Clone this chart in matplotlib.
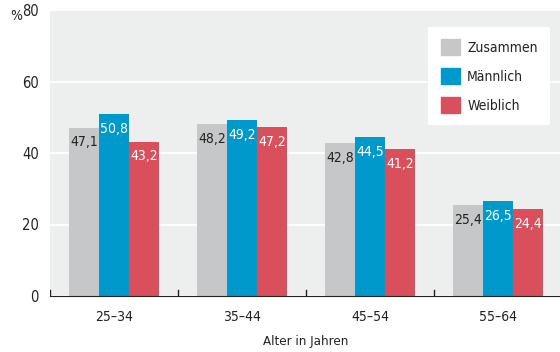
import numpy as np
import matplotlib.pyplot as plt
from matplotlib.patches import Patch

groups = ["25–34", "35–44", "45–54", "55–64"]
series = ["Zusammen", "Männlich", "Weiblich"]
zusammen = [47.1, 48.2, 42.8, 25.4]
maennlich = [50.8, 49.2, 44.5, 26.5]
weiblich = [43.2, 47.2, 41.2, 24.4]
colors = ["#C6C7C9", "#0099CC", "#D94F5C"]
text_colors = ["#222222", "white", "white"]

plt.rcParams['font.family'] = ['DejaVu Sans']
plt.rcParams['font.stretch'] = 'condensed'

fig = plt.figure(figsize=(5.6, 3.52), dpi=100)
ax = fig.add_axes([50 / 560, 56 / 352, 512 / 560, 286 / 352])
ax.set_facecolor("#EDEEEE")

x = np.arange(len(groups))
w = 0.235
for i, (vals, c, tc) in enumerate(zip([zusammen, maennlich, weiblich], colors, text_colors)):
    pos = x + (i - 1) * w
    ax.bar(pos, vals, width=w, color=c, zorder=3)
    for p, v in zip(pos, vals):
        ax.text(p, v - 2.2, f"{v:.1f}".replace(".", ","), ha="center", va="top",
                color=tc, fontsize=10, zorder=4)

ax.set_xlim(-0.5, len(groups) - 0.5)
ax.set_ylim(0, 80)
ax.set_yticks([0, 20, 40, 60, 80])
ax.set_yticklabels(["0", "20", "40", "60", "80"])
ax.grid(axis="y", color="white", linewidth=1.2, zorder=1)
ax.tick_params(axis="y", length=0, labelsize=10.5, colors="#222222", pad=8)
ax.set_xticks(x)
ax.set_xticklabels(groups)
ax.tick_params(axis="x", length=0, labelsize=10, colors="#222222", pad=10)
for b in np.arange(-0.5, len(groups), 1.0):
    ax.plot([b, b], [0, 1.8], color="#222222", lw=1, zorder=5)
for s in ["top", "right", "left"]:
    ax.spines[s].set_visible(False)
ax.spines["bottom"].set_color("#222222")
ax.spines["bottom"].set_zorder(5)
ax.set_xlabel("Alter in Jahren", fontsize=9.5, color="#222222", labelpad=8)
fig.text(10 / 560, 1 - 16 / 352, "%", fontsize=10, color="#222222", va="center")

handles = [Patch(color=c) for c in colors]
leg = ax.legend(handles, series, loc="upper right", bbox_to_anchor=(0.977, 0.942),
                frameon=True, fancybox=False, edgecolor="white", facecolor="white",
                framealpha=1, fontsize=10, handlelength=1.37, handleheight=1.37,
                borderpad=0.9, labelspacing=0.95, handletextpad=0.55,
                borderaxespad=0)
leg.get_frame().set_linewidth(0)
for t in leg.get_texts():
    t.set_color("#222222")
leg.set_zorder(6)

fig.savefig("out.png", dpi=100)
